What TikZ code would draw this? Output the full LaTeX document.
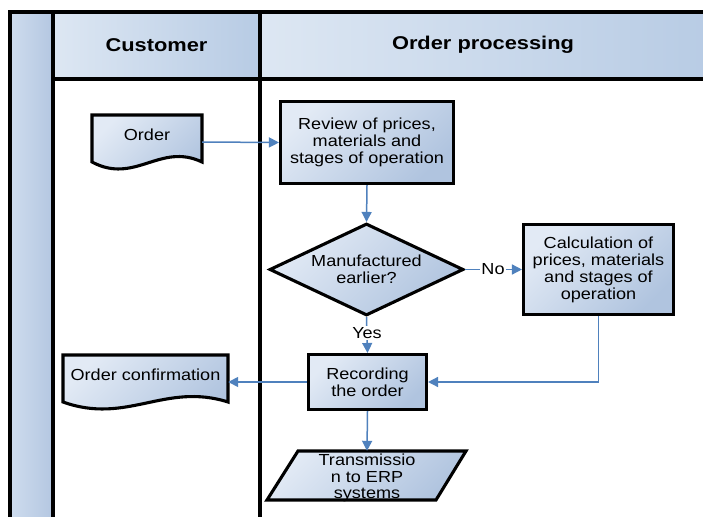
\documentclass[tikz,border=0pt]{standalone}
\usepackage{fontspec}
\setmainfont{Liberation Sans}[FakeStretch=1.13]
\newfontfamily\headfont{Liberation Sans}[FakeStretch=1.18]
\usetikzlibrary{shapes.geometric,arrows.meta,calc}

\definecolor{lite}{RGB}{226,234,245}
\definecolor{deep}{RGB}{176,196,223}
\definecolor{hlite}{RGB}{221,231,243}
\definecolor{hdeep}{RGB}{183,203,228}
\definecolor{slite}{RGB}{206,220,238}
\definecolor{sdeep}{RGB}{180,199,225}
\definecolor{flow}{RGB}{79,129,189}

\begin{document}
\begin{tikzpicture}[x=1pt,y=-1pt,
  frame/.style={line width=3.2pt, black, line cap=rect},
  shapefill/.style={top color=lite, bottom color=deep, shading angle=45},
  outline/.style={line width=3.1pt, black, line join=miter},
  txt/.style={font=\fontsize{16}{17}\selectfont, align=center, inner sep=0pt},
  box/.style={shapefill, outline, draw, txt},
  flowline/.style={draw=flow, line width=1.5pt, -{Triangle[length=10pt,width=10pt]}},
  tag/.style={txt, fill=white, inner sep=1.5pt},
  headtxt/.style={font=\headfont\fontsize{18.5}{20}\selectfont\bfseries, inner sep=0pt}
]
\useasboundingbox (0,0) rectangle (703,516);
\clip (0,0) rectangle (703,516);
\fill[white] (0,0) rectangle (703,516);

% swimlane frame
\shade[left color=slite, right color=sdeep] (10,12) rectangle (53,530);
\shade[left color=hlite, right color=hdeep] (53,12) rectangle (262,79);
\shade[left color=hlite, right color=hdeep] (260,12) rectangle (720,79);
\draw[frame] (10,530) -- (10,12) -- (720,12);
\draw[frame] (53,12) -- (53,530);
\draw[frame] (53,79) -- (720,79);
\draw[frame] (260,12) -- (260,530);
\node[headtxt] (hcust) at (156.5,45) {Customer};
\node[headtxt] (hproc) at (483,45) {Order processing};

% incoming order document
\path[shapefill] (92,115) -- (202,115) -- (202,162)
  .. controls (160,142) and (135,185) .. (92,162) -- cycle;
\draw[outline] (92,115) -- (202,115) -- (202,162)
  .. controls (160,142) and (135,185) .. (92,162) -- cycle;
\node[minimum width=110, minimum height=54, inner sep=0pt] (order) at (147,142) {};
\node[txt] (ordertxt) at (147,135) {Order};

% order confirmation document
\path[shapefill] (63,355) -- (228,355) -- (228,402)
  .. controls (165,382) and (127,425) .. (63,402) -- cycle;
\draw[outline] (63,355) -- (228,355) -- (228,402)
  .. controls (165,382) and (127,425) .. (63,402) -- cycle;
\node[minimum width=165, minimum height=54, inner sep=0pt] (conf) at (145.5,382) {};
\node[txt] (conftxt) at (145.5,375) {Order confirmation};

% process steps
\node[box, minimum width=173, minimum height=82] (review) at (367,142.5)
  {Review of prices,\\materials and\\stages of operation};
\node[box, diamond, aspect=2.1, minimum width=194, minimum height=92] (dec) at (366.5,269.5)
  {Manufactured\\earlier?};
\node[box, minimum width=150, minimum height=90] (calc) at (598.5,269.5)
  {Calculation of\\prices, materials\\and stages of\\operation};
\node[box, minimum width=118, minimum height=55] (rec) at (367.5,382)
  {Recording\\the order};

% data output parallelogram
\path[shapefill] (298,451) -- (466,451) -- (436,500) -- (267,500) -- cycle;
\node[minimum width=140, minimum height=49, inner sep=0pt] (trans) at (367,475.5) {};
\node[txt, font=\fontsize{16}{16.5}\selectfont] (transtxt) at (367,478)
  {Transmissio\\n to ERP\\systems};
\draw[outline] (298,451) -- (466,451) -- (436,500) -- (267,500) -- cycle;

% connectors
\draw[flowline] (order.east) -- (review.west);
\draw[flowline] (review.south) -- (dec.north);
\draw[flowline] (dec.east) -- (calc.west);
\node[tag] (no) at (493,269.5) {No};
\draw[flowline] (dec.south) -- (rec.north);
\node[tag] (yes) at (367,333) {Yes};
\draw[flowline] (calc.south) |- (rec.east);
\draw[flowline] (rec.west) -- (conf.east);
\draw[flowline] (rec.south) -- (trans.north);
\end{tikzpicture}
\end{document}
